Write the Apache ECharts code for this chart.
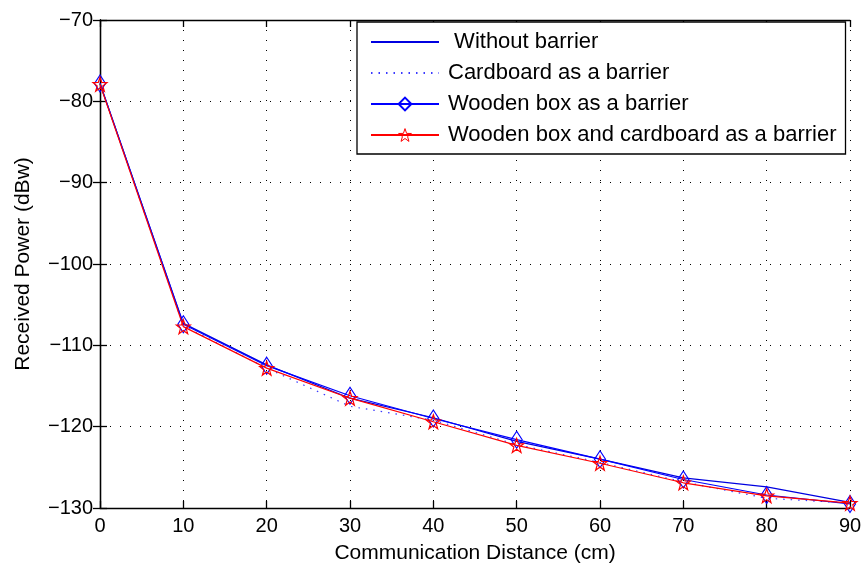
<!DOCTYPE html>
<html>
<head>
<meta charset="utf-8">
<script src="https://cdn.jsdelivr.net/npm/echarts@6/dist/echarts.min.js"></script>
<style>
  html, body { margin: 0; padding: 0; background: #fff; }
  #chart { width: 862px; height: 567px; }
</style>
</head>
<body>
<div id="chart"></div>
<script>
// Communication distance (cm)
const distances = [0, 10, 20, 30, 40, 50, 60, 70, 80, 90];

// Received power (dBw) per barrier configuration
const withoutBarrier = [-77.8, -107.3, -112.4, -116.5, -118.9, -121.8, -124.0, -126.3, -127.4, -129.3];
const cardboardBarrier = [-77.8, -107.6, -112.8, -117.5, -119.2, -122.2, -124.4, -126.8, -128.8, -129.4];
const woodenBoxBarrier = [-77.8, -107.4, -112.5, -116.2, -119.0, -121.6, -124.0, -126.5, -128.4, -129.5];
const woodenCardboardBarrier = [-77.9, -107.7, -112.8, -116.5, -119.4, -122.3, -124.5, -126.9, -128.5, -129.4];

const seriesNames = [
  ' Without barrier',
  'Cardboard as a barrier',
  'Wooden box as a barrier',
  'Wooden box and cardboard as a barrier'
];

const xTicks = { min: 0, max: 90, step: 10 };
const yTicks = { min: -130, max: -70, step: 10 };

const FONT = '"Liberation Sans", Arial, Helvetica, sans-serif';
const BLUE = '#0000ff';
const RED = '#ff0000';
const STAR = 'path://M0,-10 L2.35,-3.24 L9.51,-3.09 L3.8,1.24 L5.88,8.09 L0,4 L-5.88,8.09 L-3.8,1.24 L-9.51,-3.09 L-2.35,-3.24 Z';

const pairs = vals => distances.map((d, i) => [d, vals[i]]);
const minus = v => String(v).replace('-', '\u2212');

const boxAxisLine = { show: true, lineStyle: { color: '#000', width: 1.3 } };
const innerTick = { show: true, inside: true, length: 7, lineStyle: { color: '#000', width: 1.3 } };
const dotGrid = { show: true, lineStyle: { color: '#000', width: 1, type: [1, 9] } };
const tickLabel = { fontFamily: FONT, fontSize: 20, color: '#000', formatter: minus };
const nameStyle = { fontFamily: FONT, fontSize: 21, color: '#000' };

const chart = echarts.init(document.getElementById('chart'), null, { renderer: 'canvas' });

chart.setOption({
  animation: false,
  backgroundColor: '#fff',
  textStyle: { fontFamily: FONT },
  grid: { left: 100, right: 12, top: 20, bottom: 59, containLabel: false, outerBoundsMode: 'none' },
  legend: {
    orient: 'vertical',
    left: 357,
    top: 22,
    padding: [9, 9, 8, 13],
    itemWidth: 68,
    itemHeight: 16,
    itemGap: 9,
    backgroundColor: '#fff',
    borderColor: '#000',
    borderWidth: 1.3,
    borderRadius: 0,
    textStyle: { fontFamily: FONT, fontSize: 22, lineHeight: 22, color: '#000', padding: [0, 0, 0, 4] },
    data: [
      { name: seriesNames[0], itemStyle: { opacity: 0 } },
      { name: seriesNames[1], itemStyle: { opacity: 0 } },
      { name: seriesNames[2] },
      { name: seriesNames[3], itemStyle: { color: 'none', borderWidth: 1 } }
    ]
  },
  xAxis: [
    {
      type: 'value', min: xTicks.min, max: xTicks.max, interval: xTicks.step,
      name: 'Communication Distance (cm)', nameLocation: 'middle', nameGap: 35,
      nameTextStyle: nameStyle,
      axisLine: boxAxisLine, axisTick: innerTick, splitLine: dotGrid,
      axisLabel: Object.assign({ margin: 8 }, tickLabel)
    },
    {
      type: 'value', position: 'top', min: xTicks.min, max: xTicks.max, interval: xTicks.step,
      axisLine: boxAxisLine, axisTick: innerTick, splitLine: { show: false },
      axisLabel: { show: false }
    }
  ],
  yAxis: [
    {
      type: 'value', min: yTicks.min, max: yTicks.max, interval: yTicks.step,
      name: 'Received Power (dBw)', nameLocation: 'middle', nameGap: 66, nameRotate: 90,
      nameTextStyle: nameStyle,
      axisLine: boxAxisLine, axisTick: innerTick, splitLine: dotGrid,
      axisLabel: Object.assign({ margin: 7 }, tickLabel)
    },
    {
      type: 'value', position: 'right', min: yTicks.min, max: yTicks.max, interval: yTicks.step,
      axisLine: boxAxisLine, axisTick: innerTick, splitLine: { show: false },
      axisLabel: { show: false }
    }
  ],
  series: [
    {
      name: seriesNames[0], type: 'line', data: pairs(withoutBarrier),
      color: '#0000e0', symbol: 'none', showSymbol: false,
      lineStyle: { color: '#0000e0', width: 1.2 }, z: 2
    },
    {
      name: seriesNames[1], type: 'line', data: pairs(cardboardBarrier),
      color: '#3a3aff', symbol: 'none', showSymbol: false,
      lineStyle: { color: '#3a3aff', width: 1.2, type: [1.5, 6] }, z: 3
    },
    {
      name: seriesNames[2], type: 'line', data: pairs(woodenBoxBarrier),
      color: BLUE, symbol: 'diamond', symbolSize: [11, 17],
      itemStyle: { color: 'none', borderColor: BLUE, borderWidth: 1.2 },
      lineStyle: { color: BLUE, width: 1.2 }, z: 4
    },
    {
      name: seriesNames[3], type: 'line', data: pairs(woodenCardboardBarrier),
      color: RED, symbol: STAR, symbolSize: 14,
      itemStyle: { color: 'none', borderColor: RED, borderWidth: 1.2 },
      lineStyle: { color: RED, width: 1.2 }, z: 5
    }
  ]
});
</script>
</body>
</html>
